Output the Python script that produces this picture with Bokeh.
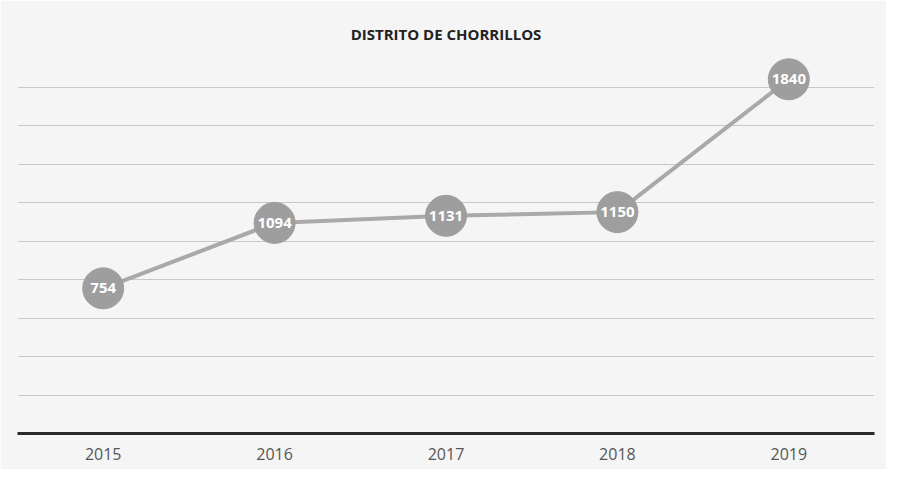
from bokeh.plotting import figure
from bokeh.models import ColumnDataSource, FixedTicker, Range1d, Title
from bokeh.core.properties import value
from bokeh.embed import file_html
from bokeh.resources import INLINE

years = ["2015", "2016", "2017", "2018", "2019"]
counts = [754, 1094, 1131, 1150, 1840]
labels = [str(c) for c in counts]
grid_ticks = [0, 200, 400, 600, 800, 1000, 1200, 1400, 1600, 1800, 2000]

src = ColumnDataSource(dict(x=years, y=counts, t=labels))

p = figure(width=886, height=469, x_range=years, y_range=Range1d(0, 2000),
           output_backend="svg", toolbar_location=None,
           min_border_left=17, min_border_right=12, min_border_bottom=36, min_border_top=48)
p.background_fill_color = "#f5f5f5"
p.border_fill_color = "#f5f5f5"
p.outline_line_color = None

t = Title(text="DISTRITO DE CHORRILLOS", align="center", text_font="Open Sans",
          text_font_size="15px", text_font_style="bold", text_color="#222222")
p.add_layout(t, "above")

p.yaxis.visible = False
p.ygrid.ticker = FixedTicker(ticks=grid_ticks)
p.ygrid.grid_line_color = "#bdbdbd"
p.ygrid.grid_line_alpha = 0.8
p.xgrid.grid_line_color = None

p.xaxis.axis_line_color = "#2a2a2a"
p.xaxis.axis_line_width = 3
p.xaxis.major_tick_line_color = None
p.xaxis.minor_tick_line_color = None
p.xaxis.major_tick_out = 0
p.xaxis.major_tick_in = 0
p.xaxis.major_label_text_font = "Open Sans"
p.xaxis.major_label_text_font_size = "16px"
p.xaxis.major_label_text_color = "#555555"
p.xaxis.major_label_standoff = 14

p.line("x", "y", source=src, line_color="#a9a9a9", line_width=4)
p.scatter("x", "y", source=src, size=41, fill_color="#9e9e9e", line_color="#9e9e9e")
p.text("x", "y", text="t", source=src, text_align="center", text_baseline="middle",
       text_color="white", text_font=value("Open Sans"), text_font_size="15px",
       text_font_style="bold")

open("out.html", "w").write(file_html(p, INLINE))
